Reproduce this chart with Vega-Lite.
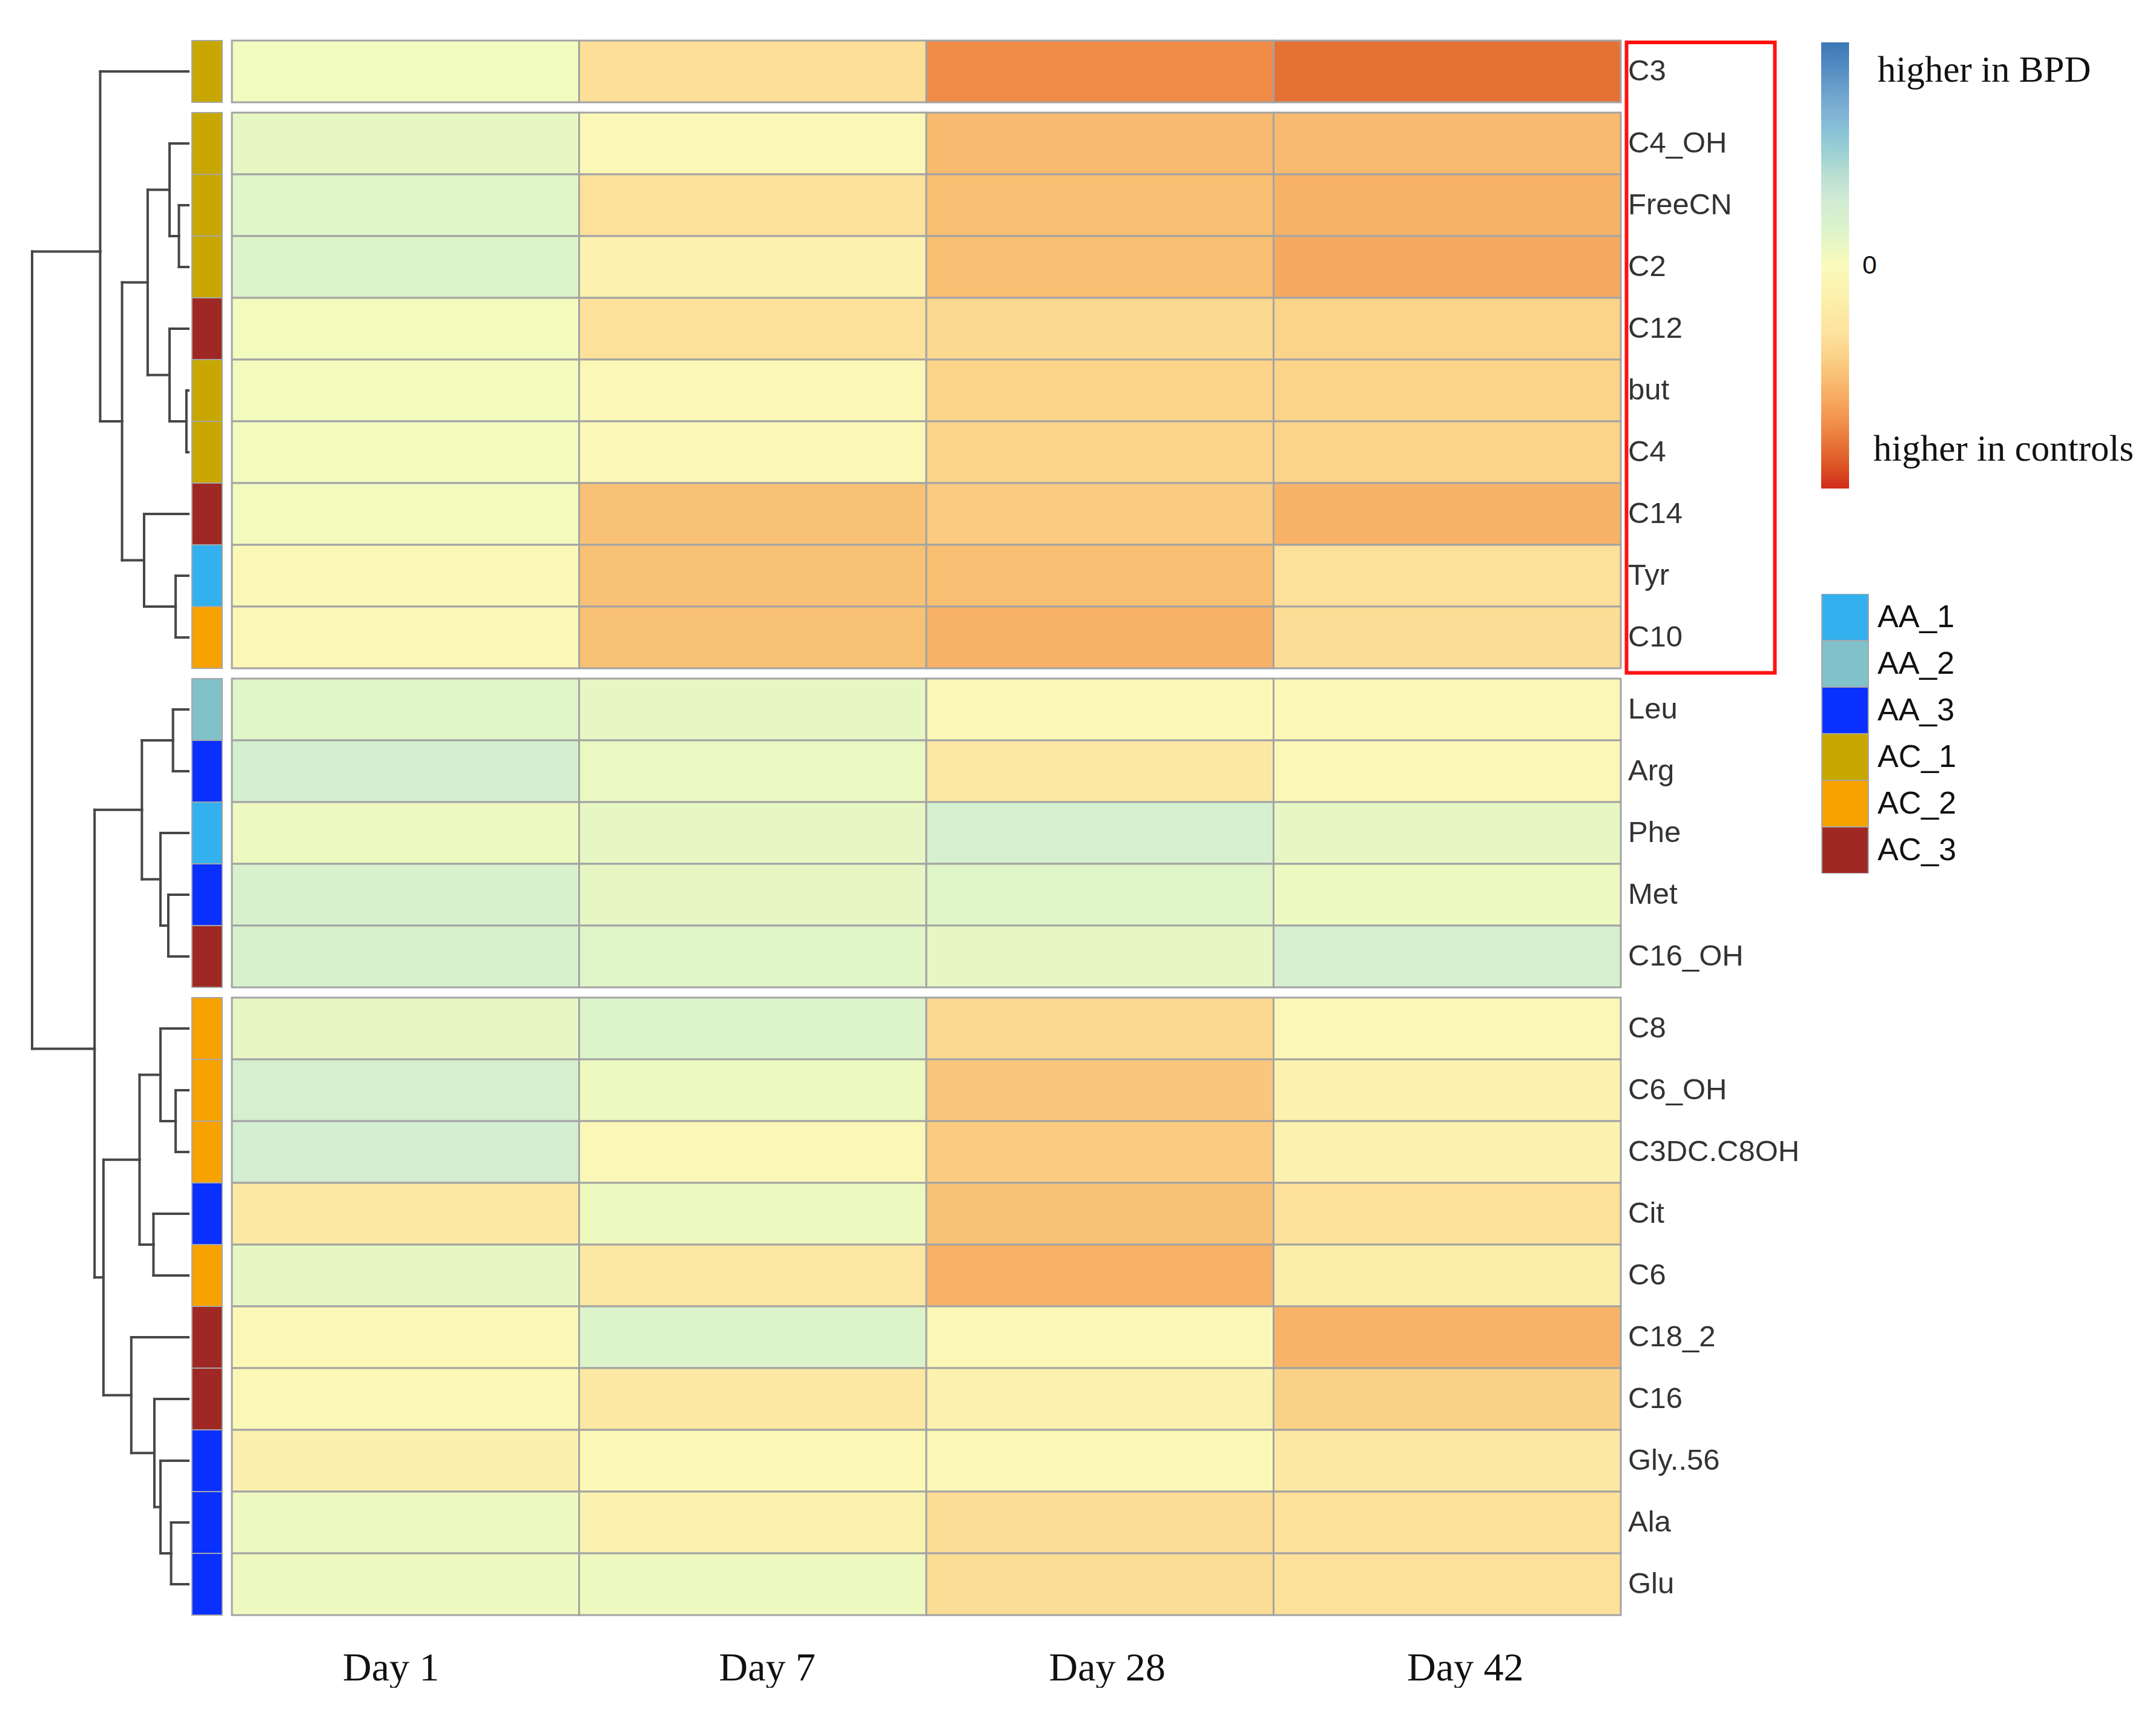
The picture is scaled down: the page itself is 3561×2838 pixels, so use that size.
{
  "$schema": "https://vega.github.io/schema/vega-lite/v6.json",
  "background": "white",
  "padding": {"left": 50, "top": 65, "right": 0, "bottom": 0},
  "config": {
    "view": {"stroke": null}
  },
  "datasets": {
    "cells": [
      {"metabolite": "C3", "cluster": 1, "day": "Day 1", "value": 0.045},
      {"metabolite": "C3", "cluster": 1, "day": "Day 7", "value": -0.34},
      {"metabolite": "C3", "cluster": 1, "day": "Day 28", "value": -0.72},
      {"metabolite": "C3", "cluster": 1, "day": "Day 42", "value": -0.81},
      {"metabolite": "C4_OH", "cluster": 2, "day": "Day 1", "value": 0.10},
      {"metabolite": "C4_OH", "cluster": 2, "day": "Day 7", "value": -0.04},
      {"metabolite": "C4_OH", "cluster": 2, "day": "Day 28", "value": -0.52},
      {"metabolite": "C4_OH", "cluster": 2, "day": "Day 42", "value": -0.52},
      {"metabolite": "FreeCN", "cluster": 2, "day": "Day 1", "value": 0.14},
      {"metabolite": "FreeCN", "cluster": 2, "day": "Day 7", "value": -0.33},
      {"metabolite": "FreeCN", "cluster": 2, "day": "Day 28", "value": -0.50},
      {"metabolite": "FreeCN", "cluster": 2, "day": "Day 42", "value": -0.56},
      {"metabolite": "C2", "cluster": 2, "day": "Day 1", "value": 0.16},
      {"metabolite": "C2", "cluster": 2, "day": "Day 7", "value": -0.11},
      {"metabolite": "C2", "cluster": 2, "day": "Day 28", "value": -0.50},
      {"metabolite": "C2", "cluster": 2, "day": "Day 42", "value": -0.60},
      {"metabolite": "C12", "cluster": 2, "day": "Day 1", "value": 0.04},
      {"metabolite": "C12", "cluster": 2, "day": "Day 7", "value": -0.32},
      {"metabolite": "C12", "cluster": 2, "day": "Day 28", "value": -0.37},
      {"metabolite": "C12", "cluster": 2, "day": "Day 42", "value": -0.40},
      {"metabolite": "but", "cluster": 2, "day": "Day 1", "value": 0.04},
      {"metabolite": "but", "cluster": 2, "day": "Day 7", "value": -0.04},
      {"metabolite": "but", "cluster": 2, "day": "Day 28", "value": -0.40},
      {"metabolite": "but", "cluster": 2, "day": "Day 42", "value": -0.40},
      {"metabolite": "C4", "cluster": 2, "day": "Day 1", "value": 0.04},
      {"metabolite": "C4", "cluster": 2, "day": "Day 7", "value": -0.04},
      {"metabolite": "C4", "cluster": 2, "day": "Day 28", "value": -0.40},
      {"metabolite": "C4", "cluster": 2, "day": "Day 42", "value": -0.40},
      {"metabolite": "C14", "cluster": 2, "day": "Day 1", "value": 0.04},
      {"metabolite": "C14", "cluster": 2, "day": "Day 7", "value": -0.49},
      {"metabolite": "C14", "cluster": 2, "day": "Day 28", "value": -0.44},
      {"metabolite": "C14", "cluster": 2, "day": "Day 42", "value": -0.56},
      {"metabolite": "Tyr", "cluster": 2, "day": "Day 1", "value": -0.04},
      {"metabolite": "Tyr", "cluster": 2, "day": "Day 7", "value": -0.49},
      {"metabolite": "Tyr", "cluster": 2, "day": "Day 28", "value": -0.50},
      {"metabolite": "Tyr", "cluster": 2, "day": "Day 42", "value": -0.33},
      {"metabolite": "C10", "cluster": 2, "day": "Day 1", "value": -0.04},
      {"metabolite": "C10", "cluster": 2, "day": "Day 7", "value": -0.49},
      {"metabolite": "C10", "cluster": 2, "day": "Day 28", "value": -0.56},
      {"metabolite": "C10", "cluster": 2, "day": "Day 42", "value": -0.35},
      {"metabolite": "Leu", "cluster": 3, "day": "Day 1", "value": 0.14},
      {"metabolite": "Leu", "cluster": 3, "day": "Day 7", "value": 0.10},
      {"metabolite": "Leu", "cluster": 3, "day": "Day 28", "value": -0.04},
      {"metabolite": "Leu", "cluster": 3, "day": "Day 42", "value": -0.04},
      {"metabolite": "Arg", "cluster": 3, "day": "Day 1", "value": 0.235},
      {"metabolite": "Arg", "cluster": 3, "day": "Day 7", "value": 0.08},
      {"metabolite": "Arg", "cluster": 3, "day": "Day 28", "value": -0.235},
      {"metabolite": "Arg", "cluster": 3, "day": "Day 42", "value": -0.04},
      {"metabolite": "Phe", "cluster": 3, "day": "Day 1", "value": 0.06},
      {"metabolite": "Phe", "cluster": 3, "day": "Day 7", "value": 0.10},
      {"metabolite": "Phe", "cluster": 3, "day": "Day 28", "value": 0.22},
      {"metabolite": "Phe", "cluster": 3, "day": "Day 42", "value": 0.10},
      {"metabolite": "Met", "cluster": 3, "day": "Day 1", "value": 0.20},
      {"metabolite": "Met", "cluster": 3, "day": "Day 7", "value": 0.10},
      {"metabolite": "Met", "cluster": 3, "day": "Day 28", "value": 0.14},
      {"metabolite": "Met", "cluster": 3, "day": "Day 42", "value": 0.06},
      {"metabolite": "C16_OH", "cluster": 3, "day": "Day 1", "value": 0.20},
      {"metabolite": "C16_OH", "cluster": 3, "day": "Day 7", "value": 0.14},
      {"metabolite": "C16_OH", "cluster": 3, "day": "Day 28", "value": 0.10},
      {"metabolite": "C16_OH", "cluster": 3, "day": "Day 42", "value": 0.22},
      {"metabolite": "C8", "cluster": 4, "day": "Day 1", "value": 0.10},
      {"metabolite": "C8", "cluster": 4, "day": "Day 7", "value": 0.16},
      {"metabolite": "C8", "cluster": 4, "day": "Day 28", "value": -0.37},
      {"metabolite": "C8", "cluster": 4, "day": "Day 42", "value": -0.04},
      {"metabolite": "C6_OH", "cluster": 4, "day": "Day 1", "value": 0.22},
      {"metabolite": "C6_OH", "cluster": 4, "day": "Day 7", "value": 0.06},
      {"metabolite": "C6_OH", "cluster": 4, "day": "Day 28", "value": -0.46},
      {"metabolite": "C6_OH", "cluster": 4, "day": "Day 42", "value": -0.11},
      {"metabolite": "C3DC.C8OH", "cluster": 4, "day": "Day 1", "value": 0.25},
      {"metabolite": "C3DC.C8OH", "cluster": 4, "day": "Day 7", "value": -0.04},
      {"metabolite": "C3DC.C8OH", "cluster": 4, "day": "Day 28", "value": -0.44},
      {"metabolite": "C3DC.C8OH", "cluster": 4, "day": "Day 42", "value": -0.11},
      {"metabolite": "Cit", "cluster": 4, "day": "Day 1", "value": -0.235},
      {"metabolite": "Cit", "cluster": 4, "day": "Day 7", "value": 0.06},
      {"metabolite": "Cit", "cluster": 4, "day": "Day 28", "value": -0.49},
      {"metabolite": "Cit", "cluster": 4, "day": "Day 42", "value": -0.33},
      {"metabolite": "C6", "cluster": 4, "day": "Day 1", "value": 0.10},
      {"metabolite": "C6", "cluster": 4, "day": "Day 7", "value": -0.235},
      {"metabolite": "C6", "cluster": 4, "day": "Day 28", "value": -0.57},
      {"metabolite": "C6", "cluster": 4, "day": "Day 42", "value": -0.16},
      {"metabolite": "C18_2", "cluster": 4, "day": "Day 1", "value": -0.04},
      {"metabolite": "C18_2", "cluster": 4, "day": "Day 7", "value": 0.16},
      {"metabolite": "C18_2", "cluster": 4, "day": "Day 28", "value": -0.04},
      {"metabolite": "C18_2", "cluster": 4, "day": "Day 42", "value": -0.55},
      {"metabolite": "C16", "cluster": 4, "day": "Day 1", "value": -0.04},
      {"metabolite": "C16", "cluster": 4, "day": "Day 7", "value": -0.235},
      {"metabolite": "C16", "cluster": 4, "day": "Day 28", "value": -0.11},
      {"metabolite": "C16", "cluster": 4, "day": "Day 42", "value": -0.41},
      {"metabolite": "Gly..56", "cluster": 4, "day": "Day 1", "value": -0.135},
      {"metabolite": "Gly..56", "cluster": 4, "day": "Day 7", "value": -0.04},
      {"metabolite": "Gly..56", "cluster": 4, "day": "Day 28", "value": -0.04},
      {"metabolite": "Gly..56", "cluster": 4, "day": "Day 42", "value": -0.235},
      {"metabolite": "Ala", "cluster": 4, "day": "Day 1", "value": 0.06},
      {"metabolite": "Ala", "cluster": 4, "day": "Day 7", "value": -0.11},
      {"metabolite": "Ala", "cluster": 4, "day": "Day 28", "value": -0.35},
      {"metabolite": "Ala", "cluster": 4, "day": "Day 42", "value": -0.33},
      {"metabolite": "Glu", "cluster": 4, "day": "Day 1", "value": 0.06},
      {"metabolite": "Glu", "cluster": 4, "day": "Day 7", "value": 0.06},
      {"metabolite": "Glu", "cluster": 4, "day": "Day 28", "value": -0.35},
      {"metabolite": "Glu", "cluster": 4, "day": "Day 42", "value": -0.32}
    ],
    "leaves": [
      {"metabolite": "C3", "cluster": 1, "class": "AC_1", "pos": 0.5},
      {"metabolite": "C4_OH", "cluster": 2, "class": "AC_1", "pos": 1.667},
      {"metabolite": "FreeCN", "cluster": 2, "class": "AC_1", "pos": 2.667},
      {"metabolite": "C2", "cluster": 2, "class": "AC_1", "pos": 3.667},
      {"metabolite": "C12", "cluster": 2, "class": "AC_3", "pos": 4.667},
      {"metabolite": "but", "cluster": 2, "class": "AC_1", "pos": 5.667},
      {"metabolite": "C4", "cluster": 2, "class": "AC_1", "pos": 6.667},
      {"metabolite": "C14", "cluster": 2, "class": "AC_3", "pos": 7.667},
      {"metabolite": "Tyr", "cluster": 2, "class": "AA_1", "pos": 8.667},
      {"metabolite": "C10", "cluster": 2, "class": "AC_2", "pos": 9.667},
      {"metabolite": "Leu", "cluster": 3, "class": "AA_2", "pos": 10.833},
      {"metabolite": "Arg", "cluster": 3, "class": "AA_3", "pos": 11.833},
      {"metabolite": "Phe", "cluster": 3, "class": "AA_1", "pos": 12.833},
      {"metabolite": "Met", "cluster": 3, "class": "AA_3", "pos": 13.833},
      {"metabolite": "C16_OH", "cluster": 3, "class": "AC_3", "pos": 14.833},
      {"metabolite": "C8", "cluster": 4, "class": "AC_2", "pos": 16.0},
      {"metabolite": "C6_OH", "cluster": 4, "class": "AC_2", "pos": 17.0},
      {"metabolite": "C3DC.C8OH", "cluster": 4, "class": "AC_2", "pos": 18.0},
      {"metabolite": "Cit", "cluster": 4, "class": "AA_3", "pos": 19.0},
      {"metabolite": "C6", "cluster": 4, "class": "AC_2", "pos": 20.0},
      {"metabolite": "C18_2", "cluster": 4, "class": "AC_3", "pos": 21.0},
      {"metabolite": "C16", "cluster": 4, "class": "AC_3", "pos": 22.0},
      {"metabolite": "Gly..56", "cluster": 4, "class": "AA_3", "pos": 23.0},
      {"metabolite": "Ala", "cluster": 4, "class": "AA_3", "pos": 24.0},
      {"metabolite": "Glu", "cluster": 4, "class": "AA_3", "pos": 25.0}
    ],
    "links": [
      {"child": "C3", "parent": "n9", "child_h": 0, "parent_h": 5.64, "child_y": 0.5, "parent_y": 3.417},
      {"child": "C4_OH", "parent": "n2", "child_h": 0, "parent_h": 1.2, "child_y": 1.667, "parent_y": 2.417},
      {"child": "FreeCN", "parent": "n1", "child_h": 0, "parent_h": 0.6, "child_y": 2.667, "parent_y": 3.167},
      {"child": "C2", "parent": "n1", "child_h": 0, "parent_h": 0.6, "child_y": 3.667, "parent_y": 3.167},
      {"child": "C12", "parent": "n4", "child_h": 0, "parent_h": 1.2, "child_y": 4.667, "parent_y": 5.417},
      {"child": "but", "parent": "n3", "child_h": 0, "parent_h": 0.12, "child_y": 5.667, "parent_y": 6.167},
      {"child": "C4", "parent": "n3", "child_h": 0, "parent_h": 0.12, "child_y": 6.667, "parent_y": 6.167},
      {"child": "C14", "parent": "n7", "child_h": 0, "parent_h": 2.83, "child_y": 7.667, "parent_y": 8.417},
      {"child": "Tyr", "parent": "n6", "child_h": 0, "parent_h": 0.81, "child_y": 8.667, "parent_y": 9.167},
      {"child": "C10", "parent": "n6", "child_h": 0, "parent_h": 0.81, "child_y": 9.667, "parent_y": 9.167},
      {"child": "Leu", "parent": "n10", "child_h": 0, "parent_h": 0.98, "child_y": 10.833, "parent_y": 11.333},
      {"child": "Arg", "parent": "n10", "child_h": 0, "parent_h": 0.98, "child_y": 11.833, "parent_y": 11.333},
      {"child": "Phe", "parent": "n12", "child_h": 0, "parent_h": 1.78, "child_y": 12.833, "parent_y": 13.583},
      {"child": "Met", "parent": "n11", "child_h": 0, "parent_h": 1.28, "child_y": 13.833, "parent_y": 14.333},
      {"child": "C16_OH", "parent": "n11", "child_h": 0, "parent_h": 1.28, "child_y": 14.833, "parent_y": 14.333},
      {"child": "C8", "parent": "n15", "child_h": 0, "parent_h": 1.78, "child_y": 16.0, "parent_y": 16.75},
      {"child": "C6_OH", "parent": "n14", "child_h": 0, "parent_h": 0.81, "child_y": 17.0, "parent_y": 17.5},
      {"child": "C3DC.C8OH", "parent": "n14", "child_h": 0, "parent_h": 0.81, "child_y": 18.0, "parent_y": 17.5},
      {"child": "Cit", "parent": "n16", "child_h": 0, "parent_h": 2.23, "child_y": 19.0, "parent_y": 19.5},
      {"child": "C6", "parent": "n16", "child_h": 0, "parent_h": 2.23, "child_y": 20.0, "parent_y": 19.5},
      {"child": "C18_2", "parent": "n21", "child_h": 0, "parent_h": 3.65, "child_y": 21.0, "parent_y": 21.938},
      {"child": "C16", "parent": "n20", "child_h": 0, "parent_h": 2.17, "child_y": 22.0, "parent_y": 22.875},
      {"child": "Gly..56", "parent": "n19", "child_h": 0, "parent_h": 1.78, "child_y": 23.0, "parent_y": 23.75},
      {"child": "Ala", "parent": "n18", "child_h": 0, "parent_h": 1.10, "child_y": 24.0, "parent_y": 24.5},
      {"child": "Glu", "parent": "n18", "child_h": 0, "parent_h": 1.10, "child_y": 25.0, "parent_y": 24.5},
      {"child": "n1", "parent": "n2", "child_h": 0.6, "parent_h": 1.2, "child_y": 3.167, "parent_y": 2.417},
      {"child": "n2", "parent": "n5", "child_h": 1.2, "parent_h": 2.6, "child_y": 2.417, "parent_y": 3.917},
      {"child": "n3", "parent": "n4", "child_h": 0.12, "parent_h": 1.2, "child_y": 6.167, "parent_y": 5.417},
      {"child": "n4", "parent": "n5", "child_h": 1.2, "parent_h": 2.6, "child_y": 5.417, "parent_y": 3.917},
      {"child": "n5", "parent": "n8", "child_h": 2.6, "parent_h": 4.24, "child_y": 3.917, "parent_y": 6.167},
      {"child": "n6", "parent": "n7", "child_h": 0.81, "parent_h": 2.83, "child_y": 9.167, "parent_y": 8.417},
      {"child": "n7", "parent": "n8", "child_h": 2.83, "parent_h": 4.24, "child_y": 8.417, "parent_y": 6.167},
      {"child": "n8", "parent": "n9", "child_h": 4.24, "parent_h": 5.64, "child_y": 6.167, "parent_y": 3.417},
      {"child": "n9", "parent": "n24", "child_h": 5.64, "parent_h": 10, "child_y": 3.417, "parent_y": 9.706},
      {"child": "n10", "parent": "n13", "child_h": 0.98, "parent_h": 2.97, "child_y": 11.333, "parent_y": 12.458},
      {"child": "n11", "parent": "n12", "child_h": 1.28, "parent_h": 1.78, "child_y": 14.333, "parent_y": 13.583},
      {"child": "n12", "parent": "n13", "child_h": 1.78, "parent_h": 2.97, "child_y": 13.583, "parent_y": 12.458},
      {"child": "n13", "parent": "n23", "child_h": 2.97, "parent_h": 6.0, "child_y": 12.458, "parent_y": 16.328},
      {"child": "n14", "parent": "n15", "child_h": 0.81, "parent_h": 1.78, "child_y": 17.5, "parent_y": 16.75},
      {"child": "n15", "parent": "n17", "child_h": 1.78, "parent_h": 3.12, "child_y": 16.75, "parent_y": 18.125},
      {"child": "n16", "parent": "n17", "child_h": 2.23, "parent_h": 3.12, "child_y": 19.5, "parent_y": 18.125},
      {"child": "n17", "parent": "n22", "child_h": 3.12, "parent_h": 5.43, "child_y": 18.125, "parent_y": 20.031},
      {"child": "n18", "parent": "n19", "child_h": 1.10, "parent_h": 1.78, "child_y": 24.5, "parent_y": 23.75},
      {"child": "n19", "parent": "n20", "child_h": 1.78, "parent_h": 2.17, "child_y": 23.75, "parent_y": 22.875},
      {"child": "n20", "parent": "n21", "child_h": 2.17, "parent_h": 3.65, "child_y": 22.875, "parent_y": 21.938},
      {"child": "n21", "parent": "n22", "child_h": 3.65, "parent_h": 5.43, "child_y": 21.938, "parent_y": 20.031},
      {"child": "n22", "parent": "n23", "child_h": 5.43, "parent_h": 6.0, "child_y": 20.031, "parent_y": 16.328},
      {"child": "n23", "parent": "n24", "child_h": 6.0, "parent_h": 10, "child_y": 16.328, "parent_y": 9.706}
    ]
  },
  "spacing": 0,
  "resolve": {"scale": {"x": "independent", "y": "independent", "color": "shared", "fill": "shared"}},
  "hconcat": [
    {
      "width": 263,
      "height": 2601,
      "data": {"name": "links"},
      "layer": [
        {
          "mark": {"type": "rule", "stroke": "#474747", "strokeWidth": 4, "strokeCap": "square"},
          "encoding": {
            "x": {"field": "child_h", "type": "quantitative", "scale": {"domain": [-0.194, 10], "reverse": true, "nice": false, "zero": false}, "axis": null},
            "x2": {"field": "parent_h"},
            "y": {"field": "child_y", "type": "quantitative", "scale": {"domain": [0, 25.5], "reverse": true, "nice": false, "zero": false}, "axis": null}
          }
        },
        {
          "mark": {"type": "rule", "stroke": "#474747", "strokeWidth": 4, "strokeCap": "square"},
          "encoding": {
            "x": {"field": "parent_h", "type": "quantitative", "scale": {"domain": [-0.194, 10], "reverse": true, "nice": false, "zero": false}, "axis": null},
            "y": {"field": "child_y", "type": "quantitative", "scale": {"domain": [0, 25.5], "reverse": true, "nice": false, "zero": false}, "axis": null},
            "y2": {"field": "parent_y"}
          }
        }
      ]
    },
    {
      "spacing": 17,
      "bounds": "flush",
      "resolve": {"scale": {"x": "independent", "y": "independent"}},
      "vconcat": [
        {
          "data": {"name": "leaves"},
          "transform": [{"filter": "datum.cluster == 1"}],
          "width": 64,
          "height": {"step": 102},
          "mark": {"type": "rect", "stroke": "#a6a6a6", "strokeWidth": 2},
          "encoding": {
            "x": {"datum": 0, "type": "quantitative", "scale": {"domain": [0, 1.28], "nice": false, "zero": false}, "axis": null},
            "x2": {"datum": 1},
            "y": {"field": "metabolite", "type": "nominal", "sort": null, "axis": null, "scale": {"paddingInner": 0, "paddingOuter": 0}},
            "fill": {
              "field": "class", "type": "nominal",
              "scale": {"domain": ["AA_1", "AA_2", "AA_3", "AC_1", "AC_2", "AC_3"], "range": ["#33b0ee", "#80c1ca", "#0a30ff", "#c8a800", "#f8a200", "#a02824"]},
              "legend": {
                "orient": "none", "legendX": 2955, "legendY": 914, "title": null, "padding": 0,
                "symbolType": "square", "symbolSize": 5900, "symbolStrokeColor": "#a6a6a6", "symbolStrokeWidth": 2,
                "labelFont": "Liberation Sans", "labelFontSize": 52, "labelColor": "#111111", "labelOffset": 14,
                "rowPadding": 0, "clipHeight": 77, "labelLimit": 0
              }
            }
          }
        },
        {
          "data": {"name": "leaves"},
          "transform": [{"filter": "datum.cluster == 2"}],
          "width": 64,
          "height": {"step": 102},
          "mark": {"type": "rect", "stroke": "#a6a6a6", "strokeWidth": 2},
          "encoding": {
            "x": {"datum": 0, "type": "quantitative", "scale": {"domain": [0, 1.28], "nice": false, "zero": false}, "axis": null},
            "x2": {"datum": 1},
            "y": {"field": "metabolite", "type": "nominal", "sort": null, "axis": null, "scale": {"paddingInner": 0, "paddingOuter": 0}},
            "fill": {"field": "class", "type": "nominal"}
          }
        },
        {
          "data": {"name": "leaves"},
          "transform": [{"filter": "datum.cluster == 3"}],
          "width": 64,
          "height": {"step": 102},
          "mark": {"type": "rect", "stroke": "#a6a6a6", "strokeWidth": 2},
          "encoding": {
            "x": {"datum": 0, "type": "quantitative", "scale": {"domain": [0, 1.28], "nice": false, "zero": false}, "axis": null},
            "x2": {"datum": 1},
            "y": {"field": "metabolite", "type": "nominal", "sort": null, "axis": null, "scale": {"paddingInner": 0, "paddingOuter": 0}},
            "fill": {"field": "class", "type": "nominal"}
          }
        },
        {
          "data": {"name": "leaves"},
          "transform": [{"filter": "datum.cluster == 4"}],
          "width": 64,
          "height": {"step": 102},
          "mark": {"type": "rect", "stroke": "#a6a6a6", "strokeWidth": 2},
          "encoding": {
            "x": {"datum": 0, "type": "quantitative", "scale": {"domain": [0, 1.28], "nice": false, "zero": false}, "axis": null},
            "x2": {"datum": 1},
            "y": {"field": "metabolite", "type": "nominal", "sort": null, "axis": null, "scale": {"paddingInner": 0, "paddingOuter": 0}},
            "fill": {"field": "class", "type": "nominal"}
          }
        }
      ]
    },
    {
      "spacing": 17,
      "bounds": "flush",
      "resolve": {"scale": {"x": "independent", "y": "independent"}},
      "vconcat": [
        {
          "data": {"name": "cells"},
          "transform": [{"filter": "datum.cluster == 1"}],
          "width": 2294,
          "height": {"step": 102},
          "mark": {"type": "rect", "stroke": "#a3a3a3", "strokeWidth": 3},
          "encoding": {
            "x": {"field": "day", "type": "nominal", "sort": ["Day 1", "Day 7", "Day 28", "Day 42"], "axis": null, "scale": {"paddingInner": 0, "paddingOuter": 0}},
            "y": {"field": "metabolite", "type": "nominal", "sort": null, "axis": null, "scale": {"paddingInner": 0, "paddingOuter": 0}},
            "color": {
              "field": "value", "type": "quantitative",
              "scale": {"type": "linear", "domain": [-1, -0.6667, -0.3333, 0, 0.3333, 0.6667, 1], "range": ["#d12a18", "#f59a55", "#fde09a", "#fbfbbb", "#cfe7d6", "#86b6d8", "#3b77b5"]},
              "legend": {
                "orient": "none", "legendX": 2955, "legendY": 3, "title": null, "padding": 0,
                "direction": "vertical", "gradientLength": 737, "gradientThickness": 46, "gradientStrokeWidth": 0,
                "values": [-0.826, 0, 0.872], "labelOverlap": false,
                "labelExpr": "datum.value > 0.1 ? 'higher in BPD' : datum.value < -0.1 ? 'higher in controls' : '0'",
                "labelFont": "Liberation Serif", "labelFontSize": 61, "labelColor": "#111111", "labelOffset": 47, "labelLimit": 0,
                "encode": {"labels": {"update": {
                  "font": {"signal": "datum.value === 0 ? 'Liberation Sans' : 'Liberation Serif'"},
                  "fontSize": {"signal": "datum.value === 0 ? 43 : 61"},
                  "dx": {"signal": "datum.value === 0 ? -25 : datum.value < 0 ? -7 : 0"}
                }}}
              }
            }
          }
        },
        {
          "data": {"name": "cells"},
          "transform": [{"filter": "datum.cluster == 2"}],
          "width": 2294,
          "height": {"step": 102},
          "mark": {"type": "rect", "stroke": "#a3a3a3", "strokeWidth": 3},
          "encoding": {
            "x": {"field": "day", "type": "nominal", "sort": ["Day 1", "Day 7", "Day 28", "Day 42"], "axis": null, "scale": {"paddingInner": 0, "paddingOuter": 0}},
            "y": {"field": "metabolite", "type": "nominal", "sort": null, "axis": null, "scale": {"paddingInner": 0, "paddingOuter": 0}},
            "color": {"field": "value", "type": "quantitative"}
          }
        },
        {
          "data": {"name": "cells"},
          "transform": [{"filter": "datum.cluster == 3"}],
          "width": 2294,
          "height": {"step": 102},
          "mark": {"type": "rect", "stroke": "#a3a3a3", "strokeWidth": 3},
          "encoding": {
            "x": {"field": "day", "type": "nominal", "sort": ["Day 1", "Day 7", "Day 28", "Day 42"], "axis": null, "scale": {"paddingInner": 0, "paddingOuter": 0}},
            "y": {"field": "metabolite", "type": "nominal", "sort": null, "axis": null, "scale": {"paddingInner": 0, "paddingOuter": 0}},
            "color": {"field": "value", "type": "quantitative"}
          }
        },
        {
          "data": {"name": "cells"},
          "transform": [{"filter": "datum.cluster == 4"}],
          "width": 2294,
          "height": {"step": 102},
          "mark": {"type": "rect", "stroke": "#a3a3a3", "strokeWidth": 3},
          "encoding": {
            "x": {"field": "day", "type": "nominal", "sort": ["Day 1", "Day 7", "Day 28", "Day 42"], "scale": {"paddingInner": 0, "paddingOuter": 0},
                  "axis": {"orient": "bottom", "title": null, "ticks": false, "domain": false, "labelPadding": 55, "labelFont": "Liberation Serif", "labelFontSize": 66, "labelColor": "#111111", "labelAngle": 0, "labelLimit": 0,
                           "labelOffset": {"condition": [{"test": "datum.value === 'Day 1'", "value": -24}, {"test": "datum.value === 'Day 7'", "value": 24}, {"test": "datum.value === 'Day 28'", "value": 12}], "value": 30}}},
            "y": {"field": "metabolite", "type": "nominal", "sort": null, "axis": null, "scale": {"paddingInner": 0, "paddingOuter": 0}},
            "color": {"field": "value", "type": "quantitative"}
          }
        }
      ]
    },
    {
      "width": 250,
      "height": 2601,
      "layer": [
        {
          "data": {"name": "leaves"},
          "mark": {"type": "text", "align": "left", "baseline": "middle", "font": "Liberation Sans", "fontSize": 49, "color": "#333333"},
          "encoding": {
            "x": {"datum": 0.04, "type": "quantitative", "scale": {"domain": [0, 1], "nice": false, "zero": false}, "axis": null},
            "y": {"field": "pos", "type": "quantitative", "scale": {"domain": [0, 25.5], "reverse": true, "nice": false, "zero": false}, "axis": null},
            "text": {"field": "metabolite"}
          }
        },
        {
          "data": {"values": [{"highlight": "top cluster"}]},
          "mark": {"type": "rect", "fill": null, "stroke": "#ff1010", "strokeWidth": 6},
          "encoding": {
            "x": {"datum": 0.03, "type": "quantitative"},
            "x2": {"datum": 1.01},
            "y": {"datum": 0.03, "type": "quantitative"},
            "y2": {"datum": 10.24}
          }
        }
      ]
    }
  ]
}
